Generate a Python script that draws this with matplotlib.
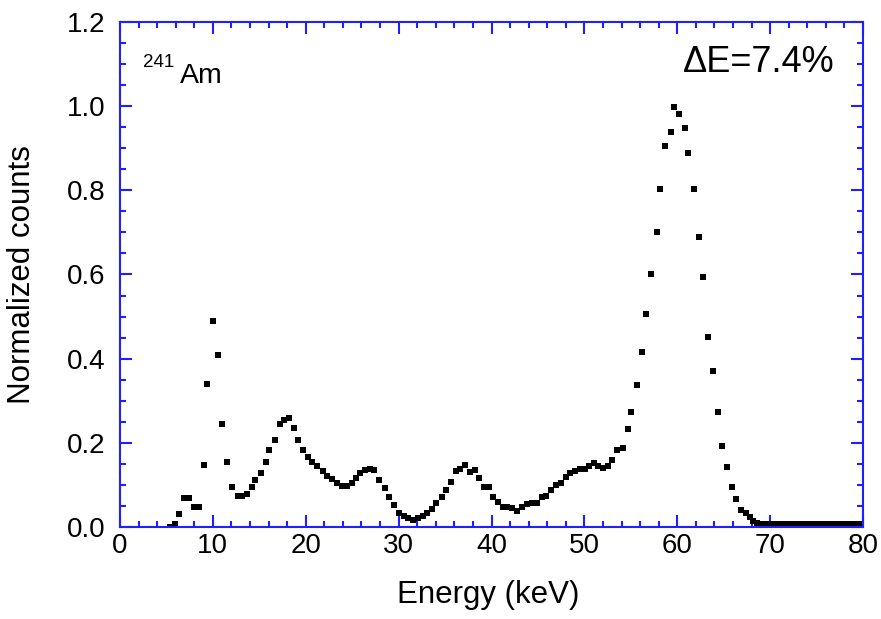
import matplotlib
matplotlib.use("Agg")
import matplotlib.pyplot as plt
from matplotlib.ticker import MultipleLocator, FormatStrFormatter

plt.rcParams['font.family'] = ['Liberation Sans', 'DejaVu Sans']

# 241Am pulse-height spectrum (energy in keV, counts normalized to the 59.5 keV peak)
energy_kev = [
    5.38, 5.92, 6.35, 6.90, 7.45, 7.97, 8.47, 9.04, 9.40, 9.98,
    10.55, 10.95, 11.48, 12.09, 12.67, 13.10, 13.64, 14.18, 14.57, 15.15,
    15.72, 16.08, 16.65, 17.23, 17.66, 18.20, 18.77, 19.20, 19.74, 20.27,
    20.70, 21.17, 21.82, 22.30, 22.79, 23.33, 23.87, 24.40, 24.95, 25.41,
    25.84, 26.38, 26.92, 27.35, 27.92, 28.53, 29.00, 29.50, 30.07, 30.58,
    31.04, 31.58, 32.12, 32.59, 33.09, 33.56, 34.02, 34.64, 35.10, 35.60,
    36.14, 36.60, 37.15, 37.69, 38.22, 38.70, 39.20, 39.75, 40.15, 40.73,
    41.27, 41.70, 42.24, 42.78, 43.25, 43.79, 44.33, 44.86, 45.40, 45.87,
    46.41, 46.94, 47.45, 48.02, 48.45, 48.99, 49.53, 50.07, 50.53, 51.07,
    51.50, 52.00, 52.56, 52.99, 53.55, 54.11, 54.68, 55.07, 55.63, 56.20,
    56.60, 57.17, 57.78, 58.14, 58.71, 59.29, 59.65, 60.22, 60.83, 61.15,
    61.77, 62.34, 62.74, 63.28, 63.88, 64.42, 64.82, 65.39, 65.93, 66.33,
    66.83, 67.37, 67.83, 68.19, 68.55, 69.0, 69.5, 70.0, 70.5, 71.0,
    71.5, 72.0, 72.5, 73.0, 73.5, 74.0, 74.5, 75.0, 75.5, 76.0,
    76.5, 77.0, 77.5, 78.0, 78.5, 79.0, 79.5, 80.0,
]
normalized_counts = [
    0.001, 0.006, 0.030, 0.070, 0.070, 0.048, 0.048, 0.147, 0.341, 0.490,
    0.409, 0.245, 0.154, 0.095, 0.073, 0.073, 0.078, 0.095, 0.112, 0.129,
    0.154, 0.183, 0.206, 0.245, 0.254, 0.258, 0.236, 0.206, 0.183, 0.167,
    0.155, 0.145, 0.133, 0.122, 0.113, 0.104, 0.097, 0.097, 0.104, 0.116,
    0.128, 0.135, 0.139, 0.135, 0.112, 0.092, 0.072, 0.052, 0.034, 0.025,
    0.021, 0.017, 0.021, 0.025, 0.033, 0.042, 0.056, 0.072, 0.088, 0.108,
    0.134, 0.139, 0.147, 0.131, 0.135, 0.116, 0.096, 0.094, 0.071, 0.060,
    0.048, 0.048, 0.044, 0.039, 0.048, 0.055, 0.056, 0.056, 0.071, 0.074,
    0.088, 0.100, 0.104, 0.118, 0.128, 0.134, 0.137, 0.139, 0.145, 0.151,
    0.145, 0.140, 0.146, 0.159, 0.182, 0.187, 0.232, 0.274, 0.337, 0.417,
    0.506, 0.600, 0.702, 0.803, 0.905, 0.939, 0.998, 0.981, 0.947, 0.888,
    0.803, 0.689, 0.595, 0.452, 0.371, 0.274, 0.193, 0.142, 0.096, 0.066,
    0.040, 0.033, 0.023, 0.015, 0.010, 0.008, 0.008, 0.008, 0.008, 0.008,
    0.008, 0.008, 0.008, 0.008, 0.008, 0.008, 0.008, 0.008, 0.008, 0.008,
    0.008, 0.008, 0.008, 0.008, 0.008, 0.008, 0.008, 0.008,
]

x_ticks = [0, 10, 20, 30, 40, 50, 60, 70, 80]
y_ticks = [0.0, 0.2, 0.4, 0.6, 0.8, 1.0, 1.2]
isotope_mass = "241"
isotope_symbol = "Am"
resolution_label = "\u0394E=7.4%"

frame_blue = "#1f1fff"

fig = plt.figure(figsize=(8.81, 6.19), dpi=100)
ax = fig.add_axes([0.1362, 0.1486, 0.8434, 0.8159])

ax.plot(energy_kev, normalized_counts, linestyle="none", marker="s",
        markersize=4.4, markeredgewidth=0, color="black")

ax.set_xlim(x_ticks[0], x_ticks[-1])
ax.set_ylim(y_ticks[0], y_ticks[-1])
ax.set_xticks(x_ticks)
ax.set_yticks(y_ticks)
ax.xaxis.set_minor_locator(MultipleLocator(2))
ax.yaxis.set_minor_locator(MultipleLocator(0.05))
ax.yaxis.set_major_formatter(FormatStrFormatter("%.1f"))

for side in ax.spines.values():
    side.set_color(frame_blue)
    side.set_linewidth(1.5)

ax.tick_params(which="both", direction="in", top=True, right=True,
               color=frame_blue, width=1.5, labelsize=20)
ax.tick_params(which="major", length=8.5)
ax.tick_params(which="minor", length=4.6)
ax.tick_params(axis="y", which="major", pad=10.5)
ax.tick_params(axis="x", which="major", pad=4.2)

ax.set_xlabel("Energy (keV)", fontsize=22.5)
ax.set_ylabel("Normalized counts", fontsize=22.5)
ax.xaxis.set_label_coords(0.496, -0.105)
ax.yaxis.set_label_coords(-0.112, 0.5)

fig.text(0.1623, 0.8918, isotope_mass, fontsize=13.5, va="baseline", ha="left")
fig.text(0.2043, 0.8659, isotope_symbol, fontsize=20.5, va="baseline", ha="left")
fig.text(0.7753, 0.8837, resolution_label, fontsize=26, va="baseline", ha="left")

fig.savefig("out.png", dpi=100)
